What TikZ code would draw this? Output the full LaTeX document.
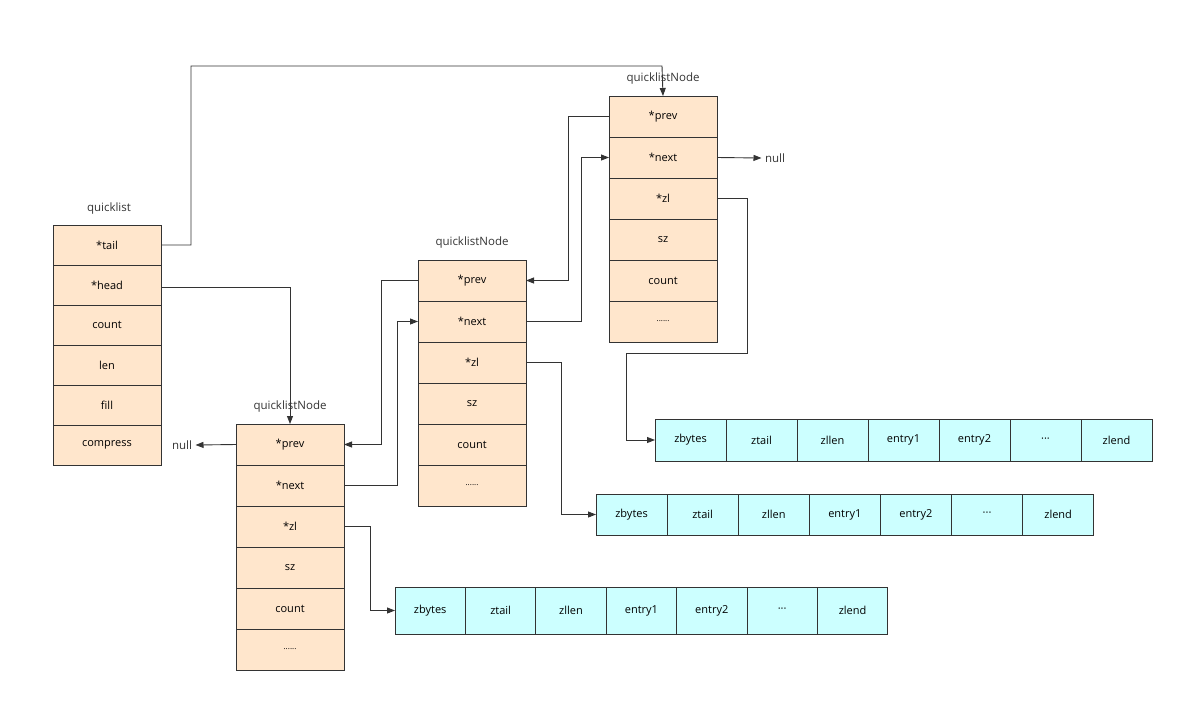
\documentclass[tikz,border=0pt]{standalone}
\usepackage{fontspec}
\setmainfont{Open Sans}
\usetikzlibrary{arrows.meta}
\definecolor{peach}{HTML}{FFE6CC}
\definecolor{cyanb}{HTML}{CCFFFF}
\definecolor{ln}{HTML}{333333}
\begin{document}
\begin{tikzpicture}[x=1pt,y=-1pt,
  cell/.style={draw=ln,fill=peach,line width=0.9pt,font=\fontsize{11}{13}\selectfont},
  zcell/.style={draw=ln,fill=cyanb,line width=0.9pt,font=\fontsize{11}{13}\selectfont},
  lab/.style={font=\fontsize{11.5}{13}\selectfont,text=ln},
  conn/.style={draw=ln,line width=0.9pt,-{Triangle[length=8pt,width=6pt]}}]
\useasboundingbox (0,0) rectangle (1183,702);
% quicklist
\node[lab] at (109,209) {quicklist};
\foreach \t [count=\i] in {*tail,*head,count,len,fill,compress}{
  \pgfmathsetmacro\ya{225+(\i-1)*40} \pgfmathsetmacro\yb{\ya+40}
  \draw[cell] (53,\ya) rectangle (161,\yb);
  \node[font=\fontsize{11}{13}\selectfont] (q\i) at (107,\ya+20) {\t};
}
% quicklist nodes
\foreach \n/\x/\y in {a/236/424,b/418/260,c/609/96}{
  \node[lab] at (\x+54,\y-17) {quicklistNode};
  \foreach \t [count=\i] in {*prev,*next,*zl,sz,count,D}{
    \pgfmathsetmacro\ya{\y+(\i-1)*41} \pgfmathsetmacro\yb{\ya+41}
    \draw[cell] (\x,\ya) rectangle (\x+108,\yb);
    \node[font=\fontsize{11}{13}\selectfont] at (\x+54,\ya+20.5) {\ifnum\i=6 {\fontsize{8}{9}\selectfont......}\else\t\fi};
  }
  \coordinate (\n-top) at (\x+54,\y);
  \coordinate (\n-pl) at (\x,\y+20.5);
  \coordinate (\n-pr) at (\x+108,\y+20.5);
  \coordinate (\n-nl) at (\x,\y+61.5);
  \coordinate (\n-nr) at (\x+108,\y+61.5);
  \coordinate (\n-zr) at (\x+108,\y+102.5);
}
% ziplists
\foreach \z/\x/\y/\h/\w in {z1/395/587/47/70.4,z2/596/494/41/71.1,z3/655/419/42/71}{
  \foreach \t [count=\i] in {zbytes,ztail,zllen,entry1,entry2,D,zlend}{
    \pgfmathsetmacro\xa{\x+(\i-1)*\w} \pgfmathsetmacro\xb{\xa+\w}
    \draw[zcell] (\xa,\y) rectangle (\xb,\y+\h);
    \node[font=\fontsize{11}{13}\selectfont] at ({(\xa+\xb)/2},\y+\h/2) {\ifnum\i=6 ···\else\t\fi};
  }
  \coordinate (\z-l) at (\x,\y+\h/2);
}
\node[lab] (null1) at (182,445) {null};
\node[lab] (null2) at (775,158) {null};
% connectors
\draw[conn] (161,245) -- (191,245) -- (191,66) -- (662,66) -- (c-top);
\draw[conn] (161,287) -- (290,287) -- (a-top);
\draw[conn] (a-pl) -- (null1.east);
\draw[conn] (b-pl) -- (381,280.5) -- (381,444.5) -- (a-pr);
\draw[conn] (a-nr) -- (397,485.5) -- (397,321.5) -- (b-nl);
\draw[conn] (a-zr) -- (370,526.5) -- (370,610.5) -- (z1-l);
\draw[conn] (c-pl) -- (568,116.5) -- (568,280.5) -- (b-pr);
\draw[conn] (b-nr) -- (581,321.5) -- (581,157.5) -- (c-nl);
\draw[conn] (b-zr) -- (561,362.5) -- (561,514.5) -- (z2-l);
\draw[conn] (c-nr) -- (null2.west);
\draw[conn] (c-zr) -- (747,198.5) -- (747,353) -- (626,353) -- (626,440) -- (z3-l);
\end{tikzpicture}
\end{document}
